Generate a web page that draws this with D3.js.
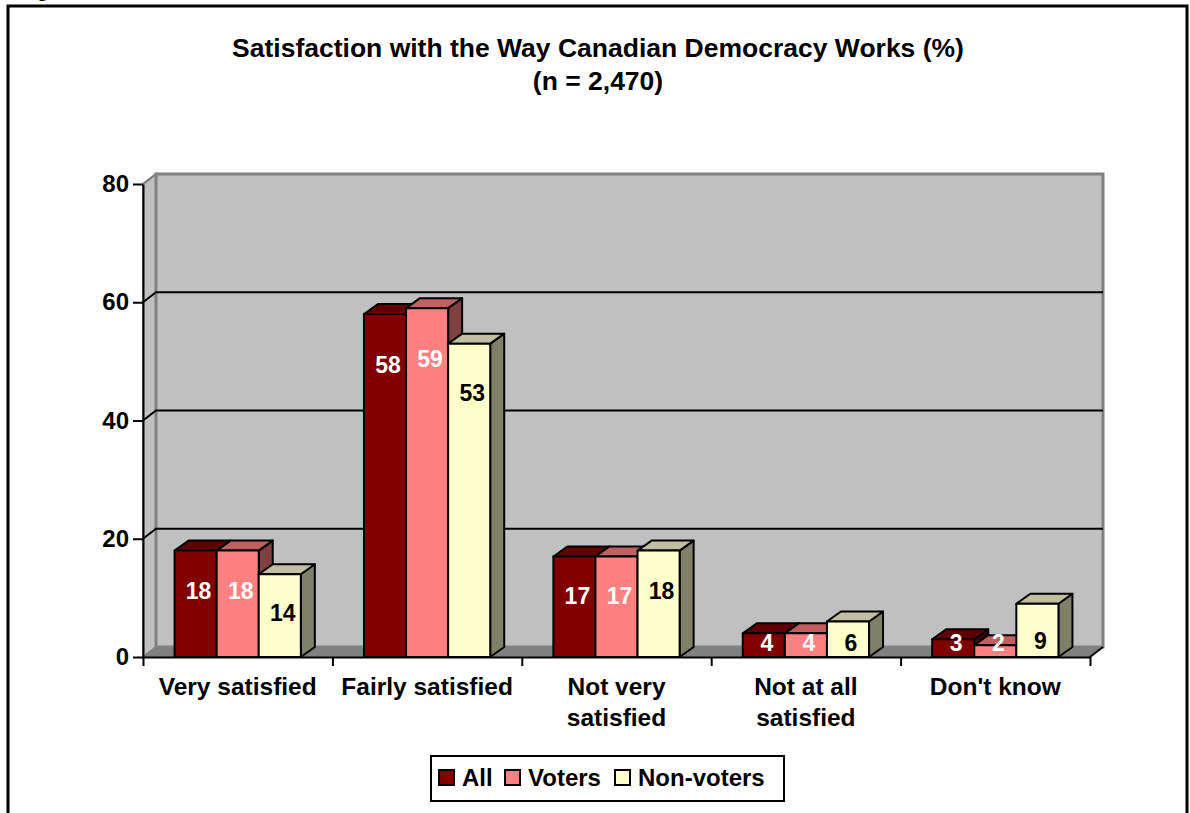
<!DOCTYPE html>
<html>
<head>
<meta charset="utf-8">
<script src="https://cdn.jsdelivr.net/npm/d3@7"></script>
<style>
  body { margin: 0; background: #fff; }
  svg { display: block; font-family: "Liberation Sans", Arial, sans-serif; font-weight: bold; }
</style>
</head>
<body>
<svg id="chart" width="1190" height="813"></svg>
<script>
// data
const categories = ['Very satisfied', 'Fairly satisfied', 'Not very satisfied', 'Not at all satisfied', "Don't know"];
const categoryLines = [['Very satisfied'], ['Fairly satisfied'], ['Not very', 'satisfied'], ['Not at all', 'satisfied'], ["Don't know"]];
const seriesNames = ['All', 'Voters', 'Non-voters'];
const allValues = [18, 58, 17, 4, 3];
const voterValues = [18, 59, 17, 4, 2];
const nonVoterValues = [14, 53, 18, 6, 9];
const yTicks = [0, 20, 40, 60, 80];

const colors = {
  'All': { front: '#800000', top: '#600000', side: '#400000', label: '#fff' },
  'Voters': { front: '#ff8080', top: '#c06060', side: '#804040', label: '#fff' },
  'Non-voters': { front: '#ffffcc', top: '#c0c0a0', side: '#808068', label: '#000' }
};
const seriesValues = [allValues, voterValues, nonVoterValues];

const svg = d3.select('#chart');

// outer frame, cut off at the page edge
svg.append('path')
  .attr('d', 'M8,813 V6 H1187 V813')
  .attr('fill', 'none').attr('stroke', '#000').attr('stroke-width', 3);
svg.append('text').attr('x', 38).attr('y', -3)
  .style('font-family', '"Liberation Serif", serif').style('font-size', '18px')
  .text('g');

const plotLeft = 143, plotRight = 1090, plotBottom = 657, plotTop = 184;
const wallDx = 13, wallDy = 10;
const barDx = 14, barDy = 10;

const y = d3.scaleLinear().domain([0, 80]).range([plotBottom, plotTop]);
const x = d3.scaleBand().domain(categories).range([plotLeft, plotRight]);
const xb = d3.scaleBand().domain(seriesNames).range([0, x.bandwidth()]).paddingInner(0).paddingOuter(0.75);
const xEdges = d3.scaleLinear().domain([0, categories.length]).range([plotLeft, plotRight]);
// label placement inside the bars (excel's 3d label spot)
const labelY = d3.scaleLinear().domain([0, 80]).range([692, 240]);

// title
const title = svg.append('text').attr('text-anchor', 'middle').style('font-size', '26.5px');
title.append('tspan').attr('x', 598).attr('y', 57).text('Satisfaction with the Way Canadian Democracy Works (%)');
title.append('tspan').attr('x', 598).attr('y', 90).text('(n = 2,470)');

// walls
const wall = svg.append('g');
wall.append('polygon')
  .attr('points', [[plotLeft, y(80)], [plotLeft + wallDx, y(80) - wallDy], [plotLeft + wallDx, y(0) - wallDy], [plotLeft, y(0)]].join(' '))
  .attr('fill', '#c0c0c0').attr('stroke', '#808080').attr('stroke-width', 2);
wall.append('rect')
  .attr('x', plotLeft + wallDx).attr('y', y(80) - wallDy)
  .attr('width', plotRight - plotLeft).attr('height', y(0) - y(80))
  .attr('fill', '#c0c0c0').attr('stroke', '#808080').attr('stroke-width', 3);
wall.append('polygon')
  .attr('points', [[plotLeft, y(0)], [plotLeft + wallDx, y(0) - wallDy], [plotRight + wallDx, y(0) - wallDy], [plotRight, y(0)]].join(' '))
  .attr('fill', '#808080');

// gridlines
yTicks.filter(t => t > 0 && t < 80).forEach(t => {
  wall.append('path')
    .attr('d', `M${plotLeft},${y(t)} L${plotLeft + wallDx},${y(t) - wallDy} H${plotRight + wallDx}`)
    .attr('fill', 'none').attr('stroke', '#000').attr('stroke-width', 2);
});
wall.append('path')
  .attr('d', `M${plotLeft},${y(80)} L${plotLeft + wallDx},${y(80) - wallDy}`)
  .attr('stroke', '#808080').attr('stroke-width', 2);

// axes
svg.append('g')
  .attr('transform', `translate(${plotLeft},0)`)
  .call(d3.axisLeft(y).tickValues(yTicks).tickSizeInner(10).tickSizeOuter(0).tickPadding(4))
  .call(g => g.selectAll('line, path').attr('stroke', '#000').attr('stroke-width', 2))
  .call(g => g.selectAll('text').attr('fill', '#000').style('font-size', '24px'))
  .attr('font-family', null).attr('font-size', null);

svg.append('g')
  .attr('transform', `translate(0,${plotBottom})`)
  .call(d3.axisBottom(xEdges).ticks(categories.length).tickSizeInner(9).tickSizeOuter(0).tickFormat(''))
  .call(g => g.selectAll('line, path').attr('stroke', '#000').attr('stroke-width', 2));
svg.append('path')
  .attr('d', `M${plotRight},${y(0)} L${plotRight + wallDx},${y(0) - wallDy}`)
  .attr('stroke', '#000').attr('stroke-width', 2);

// category labels
categories.forEach((c, i) => {
  const t = svg.append('text').attr('text-anchor', 'middle').style('font-size', '24.5px');
  categoryLines[i].forEach((line, j) => {
    t.append('tspan').attr('x', x(c) + x.bandwidth() / 2).attr('y', 695 + j * 31).text(line);
  });
});

// bars
const bars = svg.append('g');
categories.forEach((c, i) => {
  seriesNames.forEach((s, k) => {
    const v = seriesValues[k][i];
    const col = colors[s];
    const x0 = x(c) + xb(s), w = xb.bandwidth();
    const yt = y(v), y0 = y(0);
    const g = bars.append('g')
      .attr('stroke', '#000').attr('stroke-width', 2).attr('stroke-linejoin', 'round');
    g.append('polygon')
      .attr('points', [[x0 + w, yt], [x0 + w + barDx, yt - barDy], [x0 + w + barDx, y0 - barDy], [x0 + w, y0]].join(' '))
      .attr('fill', col.side);
    g.append('polygon')
      .attr('points', [[x0, yt], [x0 + barDx, yt - barDy], [x0 + w + barDx, yt - barDy], [x0 + w, yt]].join(' '))
      .attr('fill', col.top);
    g.append('rect')
      .attr('x', x0).attr('y', yt).attr('width', w).attr('height', y0 - yt)
      .attr('fill', col.front);
    bars.append('text')
      .attr('x', x0 + w / 2 + 3)
      .attr('y', Math.min(labelY(v), 643))
      .attr('dy', '0.36em')
      .attr('text-anchor', 'middle')
      .attr('fill', col.label)
      .style('font-size', '23px')
      .text(v);
  });
});

// legend
const legend = svg.append('g');
legend.append('rect')
  .attr('x', 431).attr('y', 756).attr('width', 353).attr('height', 45)
  .attr('fill', '#fff').attr('stroke', '#000').attr('stroke-width', 2);
const legendX = [439, 505, 615];
seriesNames.forEach((s, k) => {
  legend.append('rect')
    .attr('x', legendX[k]).attr('y', 770).attr('width', 15).attr('height', 15)
    .attr('fill', colors[s].front).attr('stroke', '#000').attr('stroke-width', 2);
  legend.append('text')
    .attr('x', legendX[k] + 23).attr('y', 786)
    .style('font-size', '24px')
    .text(s);
});
</script>
</body>
</html>
